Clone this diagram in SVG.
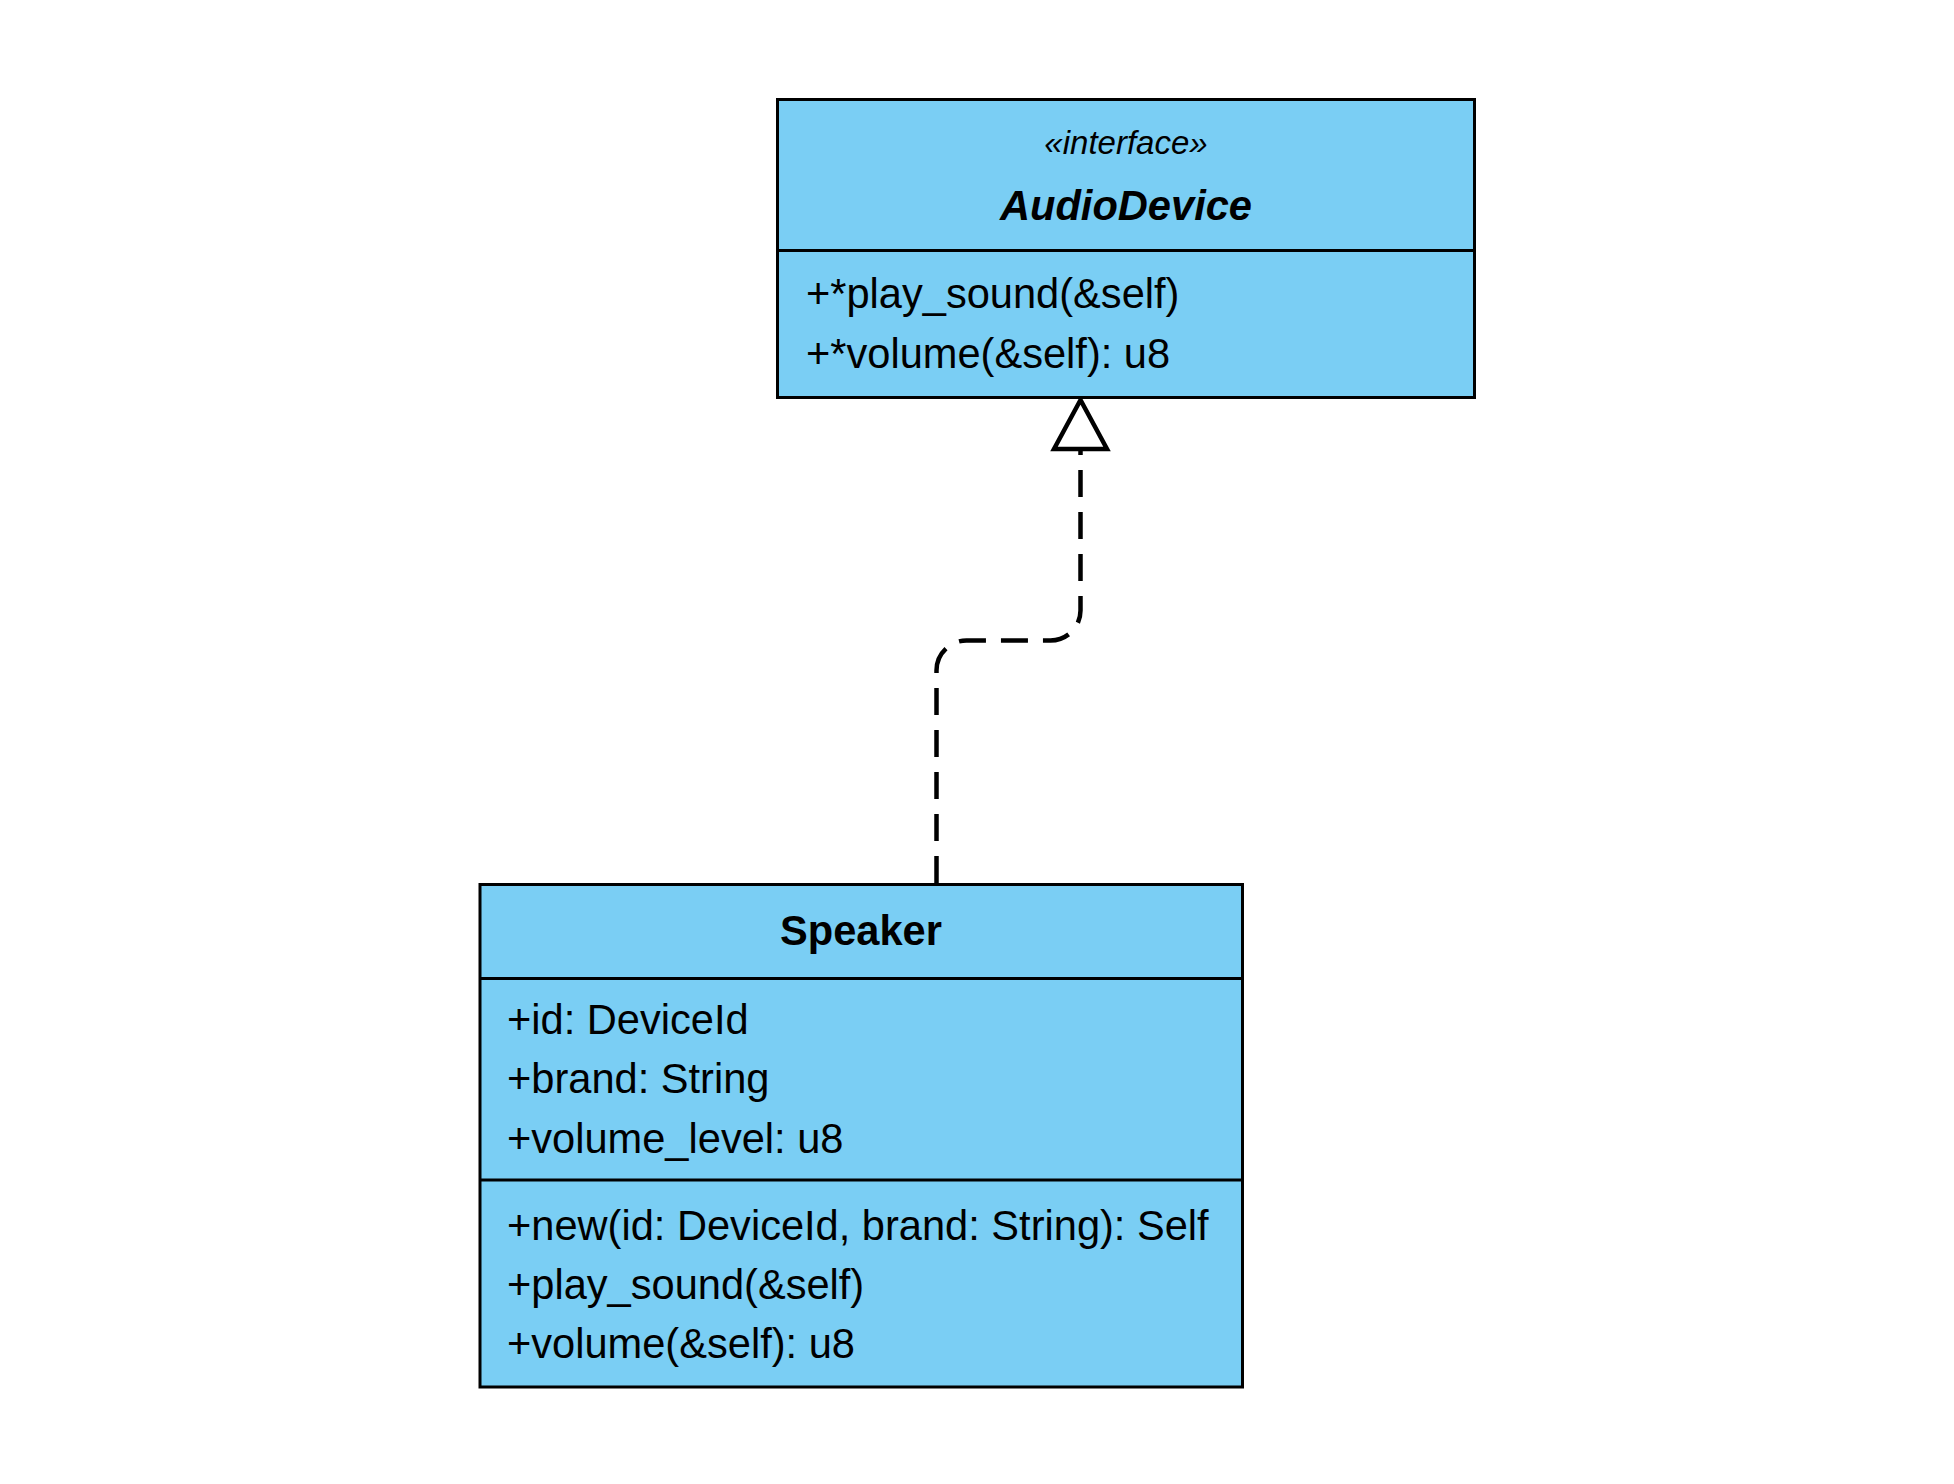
<svg xmlns="http://www.w3.org/2000/svg" width="1954" height="1484" viewBox="0 0 1954 1484">
<style>
.box{fill:#7acef4;stroke:#000;stroke-width:3}
.div{stroke:#000;stroke-width:3}
.t{font-family:"Liberation Sans",Arial,sans-serif;font-size:41.6px;fill:#000}
.b{font-weight:bold}
.c{text-anchor:middle}
.st{font-style:italic;font-size:33px}
.conn{fill:none;stroke:#000;stroke-width:4.5;stroke-dasharray:27 15}
.head{fill:#fff;stroke:#000;stroke-width:4.5;stroke-linejoin:miter}
</style>
<rect width="1954" height="1484" fill="#fff"/>
<g id="connectors">
<path class="conn" d="M936.5,883 V670.5 A30,30 0 0 1 966.5,640.5 H1050.5 A30,30 0 0 0 1080.5,610.5 V449"/>
<polygon class="head" points="1080.5,400 1054,449 1107,449"/>
</g>
<g id="AudioDevice">
<rect class="box" x="777.5" y="99.5" width="697" height="298"/>
<line class="div" x1="777.5" y1="250.5" x2="1474.5" y2="250.5"/>
<text class="t st c" x="1126" y="154">«interface»</text>
<text class="t b c" x="1126" y="220" font-style="italic">AudioDevice</text>
<text class="t" x="806" y="308">+*play_sound(&amp;self)</text>
<text class="t" x="806" y="368">+*volume(&amp;self): u8</text>
</g>
<g id="Speaker">
<rect class="box" x="480" y="884.5" width="762.5" height="502.5"/>
<line class="div" x1="480" y1="978.5" x2="1242.5" y2="978.5"/>
<line class="div" x1="480" y1="1180" x2="1242.5" y2="1180"/>
<text class="t b c" x="861" y="945">Speaker</text>
<text class="t" x="507" y="1034">+id: DeviceId</text>
<text class="t" x="507" y="1093">+brand: String</text>
<text class="t" x="507" y="1153">+volume_level: u8</text>
<text class="t" x="507" y="1240">+new(id: DeviceId, brand: String): Self</text>
<text class="t" x="507" y="1299">+play_sound(&amp;self)</text>
<text class="t" x="507" y="1358">+volume(&amp;self): u8</text>
</g>
</svg>
